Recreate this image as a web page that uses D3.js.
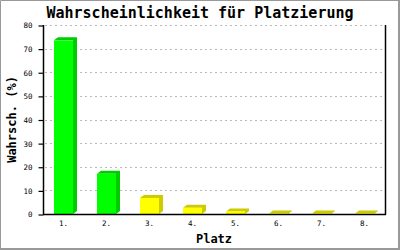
<!DOCTYPE html>
<html>
<head>
<meta charset="utf-8">
<script src="https://cdn.jsdelivr.net/npm/d3@7"></script>
<style>
  html, body { margin: 0; padding: 0; background: #fff; }
  svg { display: block; }
</style>
</head>
<body>
<div id="chart"></div>
<script>
const places = ["1.", "2.", "3.", "4.", "5.", "6.", "7.", "8."];
const chances = [73.5, 17, 6.8, 2.6, 1.1, 0.2, 0.2, 0.2];
const yTicks = [0, 10, 20, 30, 40, 50, 60, 70, 80];

const width = 400;
const height = 250;
const plotLeft = 43;
const plotRight = 385;
const plotTop = 25;
const plotBottom = 214;
const depthX = 4;
const depthY = 3;
const mono = "'DejaVu Sans Mono', 'Liberation Mono', monospace";

const svg = d3
  .select("#chart")
  .append("svg")
  .attr("width", width)
  .attr("height", height);

// frame
svg.append("rect").attr("x", 0).attr("y", 0).attr("width", width).attr("height", height).attr("fill", "#fff");
svg.append("path")
  .attr("d", `M0.5,${height} V0.5 H${width}`)
  .attr("fill", "none").attr("stroke", "#999").attr("stroke-width", 1);
svg.append("path")
  .attr("d", `M${width - 1},0 V${height - 1} H0`)
  .attr("fill", "none").attr("stroke", "#999").attr("stroke-width", 2);

const x = d3.scaleBand().domain(places).range([plotLeft, plotRight]).paddingInner(0.55).paddingOuter(0.25);
const y = d3.scaleLinear().domain([0, 80]).range([plotBottom, plotTop]);

// grid
svg.append("g")
  .selectAll("line")
  .data(yTicks.filter((d) => d > 0))
  .enter()
  .append("line")
  .attr("x1", plotLeft + 2)
  .attr("x2", plotRight)
  .attr("y1", (d) => Math.round(y(d)) + 0.5)
  .attr("y2", (d) => Math.round(y(d)) + 0.5)
  .attr("stroke", "#bbb")
  .attr("stroke-dasharray", "2,3");

// bars
const colors = (i) => (i < 2 ? ["#00ff00", "#00cc00"] : ["#ffff00", "#cccc00"]);
const bars = svg.append("g")
  .selectAll("g")
  .data(chances)
  .enter()
  .append("g");

bars.append("path")
  .attr("fill", (d, i) => colors(i)[1])
  .attr("d", (d, i) => {
    const x0 = Math.round(x(places[i]));
    const x1 = x0 + Math.round(x.bandwidth());
    const yt = y(d);
    return `M${x0},${yt} L${x0 + depthX},${yt - depthY} L${x1 + depthX},${yt - depthY} L${x1 + depthX},${plotBottom - depthY} L${x1},${plotBottom} L${x1},${yt} Z`;
  });

bars.append("rect")
  .attr("x", (d, i) => Math.round(x(places[i])))
  .attr("y", (d) => y(d))
  .attr("width", Math.round(x.bandwidth()))
  .attr("height", (d) => plotBottom - y(d))
  .attr("fill", (d, i) => colors(i)[0]);

// axes
const yAxis = d3.axisLeft(y).tickValues(yTicks).tickSize(5).tickPadding(6);
const gy = svg.append("g")
  .attr("transform", `translate(${plotLeft + 0.5},0.5)`)
  .call(yAxis);
gy.select(".domain").remove();
gy.selectAll("line").attr("stroke", "#000").attr("stroke-width", 1.2);
gy.selectAll("text").attr("font-family", mono).attr("font-size", 7.5).attr("fill", "#000");

svg.append("line")
  .attr("x1", plotLeft + 0.5).attr("x2", plotLeft + 0.5)
  .attr("y1", plotTop).attr("y2", plotBottom + 0.5)
  .attr("stroke", "#000").attr("stroke-width", 1.5);
svg.append("line")
  .attr("x1", plotRight + 0.5).attr("x2", plotRight + 0.5)
  .attr("y1", plotTop).attr("y2", plotBottom + 0.5)
  .attr("stroke", "#000").attr("stroke-width", 1.5);
svg.append("line")
  .attr("x1", plotLeft).attr("x2", plotRight + 1)
  .attr("y1", plotBottom + 0.5).attr("y2", plotBottom + 0.5)
  .attr("stroke", "#000").attr("stroke-width", 1.5);

svg.append("g")
  .selectAll("text")
  .data(places)
  .enter()
  .append("text")
  .attr("x", (d) => x(d) + x.bandwidth() / 2)
  .attr("y", 226)
  .attr("text-anchor", "middle")
  .attr("font-family", mono)
  .attr("font-size", 7.5)
  .text((d) => d);

// titles
svg.append("text")
  .attr("x", 200)
  .attr("y", 18)
  .attr("text-anchor", "middle")
  .attr("font-family", mono)
  .attr("font-weight", "bold")
  .attr("font-size", 15)
  .text("Wahrscheinlichkeit für Platzierung");

svg.append("text")
  .attr("x", (plotLeft + plotRight) / 2)
  .attr("y", 243)
  .attr("text-anchor", "middle")
  .attr("font-family", mono)
  .attr("font-weight", "bold")
  .attr("font-size", 12)
  .text("Platz");

svg.append("text")
  .attr("transform", `translate(16,${(plotTop + plotBottom) / 2}) rotate(-90)`)
  .attr("text-anchor", "middle")
  .attr("font-family", mono)
  .attr("font-weight", "bold")
  .attr("font-size", 12)
  .text("Wahrsch. (%)");
</script>
</body>
</html>
